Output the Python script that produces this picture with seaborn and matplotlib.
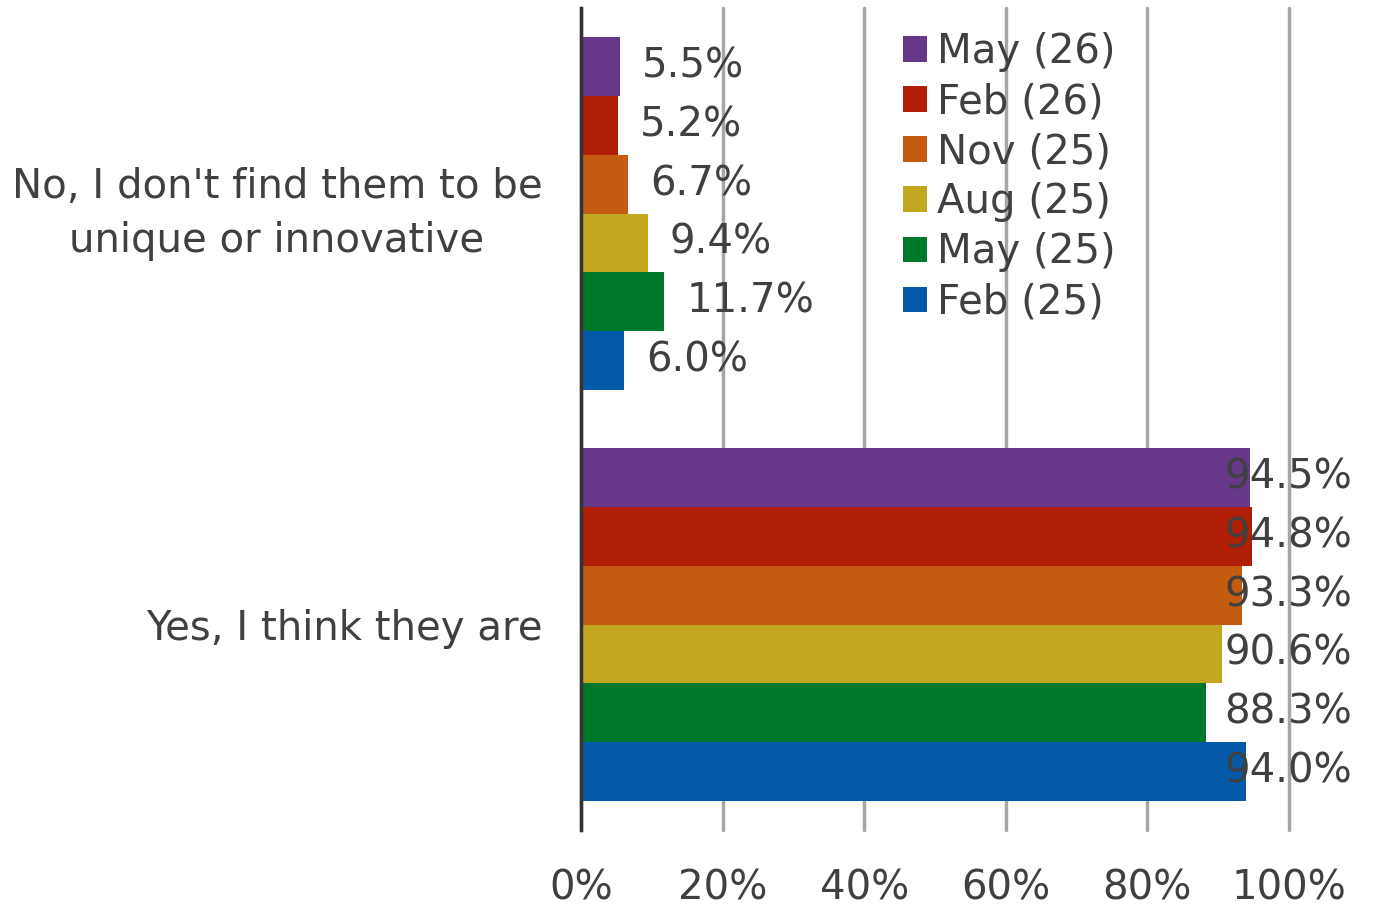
import pandas as pd
import matplotlib.pyplot as plt
import seaborn as sns
from matplotlib.ticker import PercentFormatter

sns.set_style('white')
plt.rcParams['font.family'] = ['DejaVu Sans']
plt.rcParams['text.color'] = '#404040'

# data
answers = ["No, I don't find them to be\nunique or innovative", "Yes, I think they are"]
waves = ['May (26)', 'Feb (26)', 'Nov (25)', 'Aug (25)', 'May (25)', 'Feb (25)']
no_vals = [5.5, 5.2, 6.7, 9.4, 11.7, 6.0]
yes_vals = [94.5, 94.8, 93.3, 90.6, 88.3, 94.0]
colors = ['#673889', '#B01E06', '#C55A11', '#C4A720', '#00782A', '#0459A9']

df = pd.DataFrame({
    'answer': [answers[0]] * len(waves) + [answers[1]] * len(waves),
    'wave': waves + waves,
    'value': no_vals + yes_vals,
})

fs = 29

fig = plt.figure(figsize=(13.73, 9.14), dpi=100)
ax = fig.add_axes([0.4232, 0.0919, 0.5156, 0.8993])

sns.barplot(data=df, y='answer', x='value', hue='wave', hue_order=waves,
            palette=colors, orient='h', width=0.86, saturation=1,
            linewidth=0, ax=ax)

ax.set_xlim(0, 100)
ax.set_ylim(1.5, -0.5)
ax.set_xticks(range(0, 101, 20))
ax.xaxis.set_major_formatter(PercentFormatter(decimals=0))
ax.grid(axis='x', color='#A6A6A6', linewidth=2.5)
for gl in ax.get_xgridlines():
    gl.set_clip_on(False)
ax.set_axisbelow(True)
for s in ['top', 'right', 'bottom']:
    ax.spines[s].set_visible(False)
ax.spines['left'].set_color('#333333')
ax.spines['left'].set_linewidth(2.5)
ax.spines['left'].set_zorder(5)
ax.tick_params(axis='x', length=0, pad=28, labelsize=fs, labelcolor='#404040')
ax.tick_params(axis='y', length=0, pad=28, labelsize=fs, labelcolor='#404040')
for lab in ax.get_yticklabels():
    lab.set_multialignment('center')
    lab.set_linespacing(1.45)
    if '\n' in lab.get_text():
        lab.set_va('center')
ax.set_xlabel('')
ax.set_ylabel('')

# value labels
for cont in ax.containers:
    for bar in cont:
        v = bar.get_width()
        yc = bar.get_y() + bar.get_height() / 2
        if v < 50:
            ax.annotate(f'{v:.1f}%', (v, yc), xytext=(16, 0), textcoords='offset points',
                        ha='left', va='center', fontsize=fs, color='#404040')
        else:
            ax.text(108.9, yc, f'{v:.1f}%', ha='right', va='center',
                    fontsize=fs, color='#404040', clip_on=False, zorder=6)

leg = ax.legend(loc='upper left', bbox_to_anchor=(0.421, 1.0), frameon=False,
                fontsize=fs, handlelength=0.6, handleheight=0.6, handletextpad=0.25,
                labelspacing=0.25, borderaxespad=0.2)

fig.savefig('out.png', dpi=100)
